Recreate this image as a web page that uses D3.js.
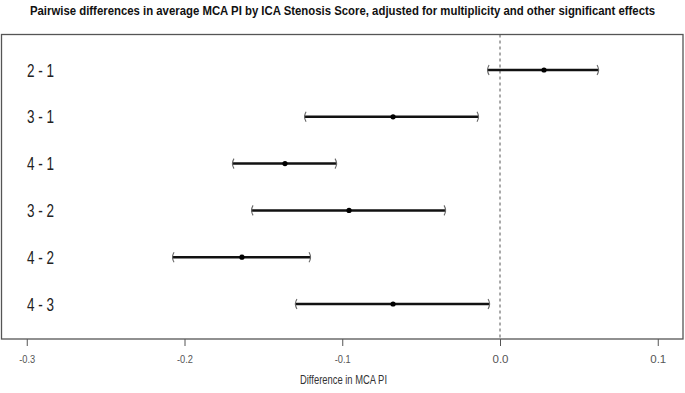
<!DOCTYPE html>
<html><head><meta charset="utf-8">
<script src="https://cdn.jsdelivr.net/npm/d3@7"></script>
<style>body{margin:0;background:#fff}svg{display:block}</style>
</head><body>
<script>
const comparisons = ["2 - 1","3 - 1","4 - 1","3 - 2","4 - 2","4 - 3"];
const estimates = [0.0279,-0.0678,-0.1363,-0.0957,-0.1636,-0.0678];
const lowers    = [-0.0082,-0.1242,-0.1699,-0.1578,-0.2079,-0.1300];
const uppers    = [0.0628,-0.0133,-0.1033,-0.0342,-0.1198,-0.0063];
const xTicks = [-0.3,-0.2,-0.1,0.0,0.1];
const xTickLabels = ["-0.3","-0.2","-0.1","0.0","0.1"];
const title = "Pairwise differences in average MCA PI by ICA Stenosis Score, adjusted for multiplicity and other significant effects";
const xTitle = "Difference in MCA PI";

const W=685,H=393;
const svg=d3.select("body").append("svg").attr("width",W).attr("height",H);
const box={l:1.5,t:34.5,r:683,b:339};
const x=d3.scaleLinear().domain([-0.3,0.1]).range([26.75,657.75]);
const y=d3.scalePoint().domain(comparisons).range([70,304]);

const tt=svg.append("text").attr("x",0).attr("y",0).attr("text-anchor","middle")
  .attr("font-family","Liberation Sans, Arial, sans-serif").attr("font-weight","bold")
  .attr("font-size",12.5).attr("fill","#111").text(title);
const tw=tt.node().getComputedTextLength();
tt.attr("transform",`translate(${W/2},15) scale(${626/tw},1)`);

svg.append("rect").attr("x",box.l).attr("y",box.t).attr("width",box.r-box.l).attr("height",box.b-box.t)
  .attr("fill","none").attr("stroke","#555").attr("stroke-width",1.3);

svg.append("line").attr("x1",x(0)).attr("x2",x(0)).attr("y1",box.t).attr("y2",box.b)
  .attr("stroke","#555").attr("stroke-width",1).attr("stroke-dasharray","3,3");

const axis=d3.axisBottom(x).tickValues(xTicks).tickFormat((d,i)=>xTickLabels[i]).tickSize(7).tickPadding(9);
const ag=svg.append("g").attr("transform",`translate(0,${box.b})`).call(axis);
ag.select(".domain").remove();
ag.selectAll(".tick line").attr("stroke","#555");
ag.selectAll(".tick text").attr("fill","#555").attr("font-family","Liberation Sans, Arial, sans-serif")
  .attr("font-size",11.5).attr("textLength",16).attr("lengthAdjust","spacingAndGlyphs");

svg.append("text").attr("x",300).attr("y",384).attr("font-family","Liberation Sans, Arial, sans-serif")
  .attr("font-size",12).attr("fill","#333").attr("textLength",87).attr("lengthAdjust","spacingAndGlyphs").text(xTitle);

svg.selectAll(".rl").data(comparisons).join("text").attr("class","rl")
  .attr("x",27).attr("y",d=>y(d)+6.5).attr("font-family","Liberation Sans, Arial, sans-serif")
  .attr("font-size",18).attr("fill","#222").attr("textLength",27).attr("lengthAdjust","spacingAndGlyphs").text(d=>d);

const g=svg.selectAll(".ci").data(comparisons).join("g").attr("class","ci");
g.append("line").attr("x1",(d,i)=>x(lowers[i])).attr("x2",(d,i)=>x(uppers[i]))
  .attr("y1",d=>y(d)).attr("y2",d=>y(d)).attr("stroke","#111").attr("stroke-width",2.5);
g.append("path").attr("d",(d,i)=>{const a=x(lowers[i]),b=y(d);return `M${a+2},${b-5} Q${a-1},${b} ${a+2},${b+5}`;})
  .attr("fill","none").attr("stroke","#666").attr("stroke-width",1.1);
g.append("path").attr("d",(d,i)=>{const a=x(uppers[i]),b=y(d);return `M${a-2},${b-5} Q${a+1},${b} ${a-2},${b+5}`;})
  .attr("fill","none").attr("stroke","#666").attr("stroke-width",1.1);
g.append("circle").attr("cx",(d,i)=>x(estimates[i])).attr("cy",d=>y(d)).attr("r",2.6).attr("fill","#000");
</script>
</body></html>
